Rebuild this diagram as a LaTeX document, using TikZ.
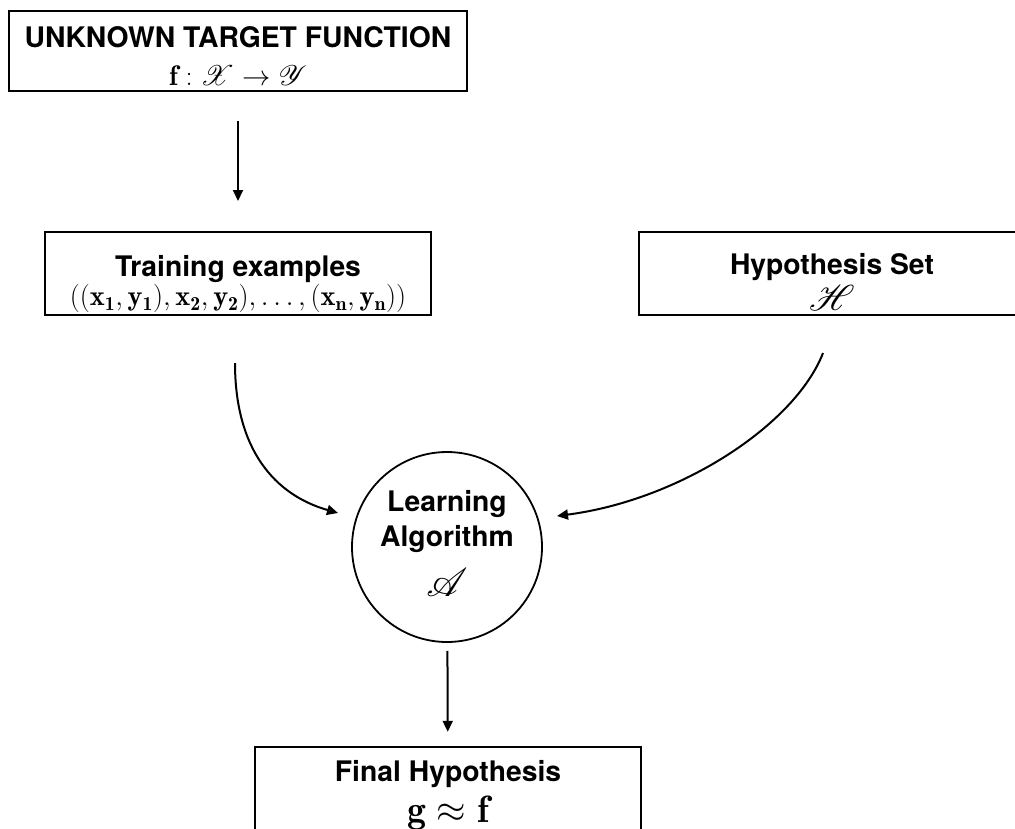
\RequirePackage{fix-cm}
\documentclass[tikz,border=0pt]{standalone}
\usepackage{fontspec}
\usepackage{amsmath}
\usepackage{mathrsfs}
\setsansfont{TeX Gyre Heros}
\usetikzlibrary{arrows.meta}

% let the script letters scale to any size
\DeclareFontFamily{U}{rsfs}{\skewchar\font127}
\DeclareFontShape{U}{rsfs}{m}{n}{<-6>rsfs5 <6-8>rsfs7 <8->rsfs10}{}
\newcommand{\bigscr}[2]{{\fontsize{#1}{#1}\selectfont$\mathscr{#2}$}}

\tikzset{
  box/.style={draw, line width=2pt, minimum width=386pt, minimum height=83pt,
    inner sep=0pt, align=center, font=\sffamily\bfseries\fontsize{28.3}{30}\selectfont},
  arr/.style={-{Triangle[length=11pt,width=10pt]}, line width=2pt}
}

\begin{document}
\begin{tikzpicture}[x=1pt,y=-1pt]
    \useasboundingbox (0,0) rectangle (1015,828);

    % Boxes
    \node[box, minimum width=458pt, minimum height=80pt] (target) at (238,51)
      {\rule{0pt}{30pt}UNKNOWN TARGET FUNCTION\\[8pt] $\mathbf{f}:\mathscr{X}\to\mathscr{Y}$};
    \node[box] (train) at (238,273.5)
      {\rule{0pt}{43pt}Training examples\\[-1pt] $((\mathbf{x_1},\mathbf{y_1}),\mathbf{x_2},\mathbf{y_2}),\ldots,(\mathbf{x_n},\mathbf{y_n}))$};
    \node[box] (hypo) at (832,273.5)
      {\rule{0pt}{38pt}Hypothesis Set\\[3pt] \bigscr{36}{H}};
    \node[box] (final) at (448,788.5)
      {\rule{0pt}{35pt}Final Hypothesis\\[7pt] {\fontsize{38}{40}\selectfont $\mathbf{g}\approx\mathbf{f}$}};

    % Learning algorithm
    \node[box, circle, line width=1.8pt, minimum size=190pt] (algo) at (447,547)
      {Learning\\[5pt] Algorithm\\[14pt] \bigscr{40}{A}\rule[-7pt]{0pt}{7pt}};

    % Free ends of the curved arrows
    \coordinate (trainout) at (235,363);
    \coordinate (algoleft) at (338,513);
    \coordinate (hypoout) at (823,353);
    \coordinate (algoright) at (557,516);

    % Arrows
    \draw[arr, shorten <=29pt, shorten >=30pt] (target) -- (train);
    \draw[arr] (trainout) .. controls (235,450) and (275,495) .. (algoleft);
    \draw[arr] (hypoout) .. controls (795,425) and (680,500) .. (algoright);
    \draw[arr, shorten <=8pt, shorten >=14pt] (algo) -- (final);
\end{tikzpicture}
\end{document}
